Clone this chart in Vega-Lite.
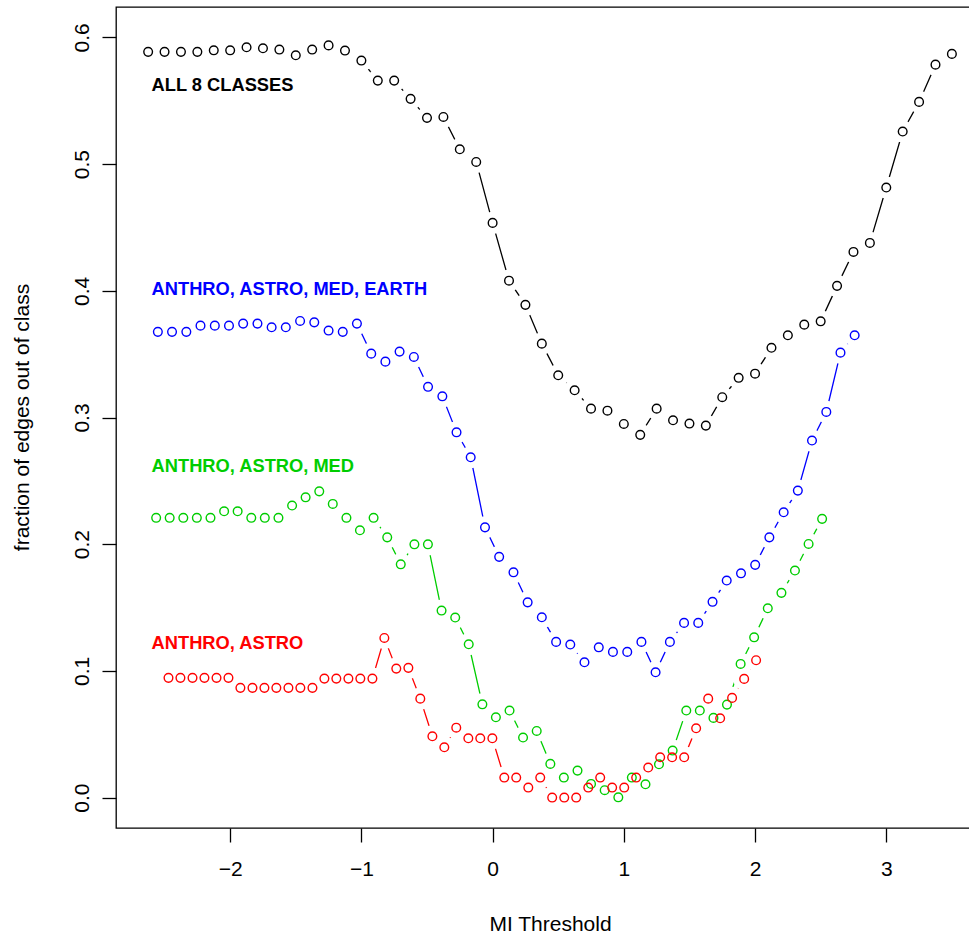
{
  "$schema": "https://vega.github.io/schema/vega-lite/v6.json",
  "width": 854,
  "height": 821,
  "autosize": "none",
  "padding": {"left": 116, "top": 7, "right": 0, "bottom": 109},
  "background": "white",
  "config": {"view": {"stroke": "black", "strokeWidth": 1.3}, "font": "Liberation Sans"},
  "datasets": {
    "pts": [
      {"series":"all","x":-2.625,"y":0.5886},{"series":"all","x":-2.5,"y":0.5886},{"series":"all","x":-2.375,"y":0.5886},{"series":"all","x":-2.25,"y":0.5886},{"series":"all","x":-2.125,"y":0.5898},{"series":"all","x":-2.0,"y":0.5898},{"series":"all","x":-1.875,"y":0.5922},{"series":"all","x":-1.75,"y":0.5914},{"series":"all","x":-1.625,"y":0.5904},{"series":"all","x":-1.5,"y":0.5859},
      {"series":"all","x":-1.375,"y":0.5904},{"series":"all","x":-1.25,"y":0.5937},{"series":"all","x":-1.125,"y":0.5896},{"series":"all","x":-1.0,"y":0.5817},{"series":"all","x":-0.875,"y":0.5659},{"series":"all","x":-0.75,"y":0.5659},{"series":"all","x":-0.625,"y":0.5515},{"series":"all","x":-0.5,"y":0.5365},{"series":"all","x":-0.375,"y":0.5372},{"series":"all","x":-0.25,"y":0.5117},
      {"series":"all","x":-0.125,"y":0.5017},{"series":"all","x":0,"y":0.4536},{"series":"all","x":0.125,"y":0.408},{"series":"all","x":0.25,"y":0.3889},{"series":"all","x":0.375,"y":0.3583},{"series":"all","x":0.5,"y":0.3333},{"series":"all","x":0.625,"y":0.3215},{"series":"all","x":0.75,"y":0.307},{"series":"all","x":0.875,"y":0.3054},{"series":"all","x":1.0,"y":0.2949},
      {"series":"all","x":1.125,"y":0.2863},{"series":"all","x":1.25,"y":0.307},{"series":"all","x":1.375,"y":0.2978},{"series":"all","x":1.5,"y":0.2952},{"series":"all","x":1.625,"y":0.2936},{"series":"all","x":1.75,"y":0.316},{"series":"all","x":1.875,"y":0.3313},{"series":"all","x":2.0,"y":0.3346},{"series":"all","x":2.125,"y":0.355},{"series":"all","x":2.25,"y":0.3649},
      {"series":"all","x":2.375,"y":0.3733},{"series":"all","x":2.5,"y":0.3759},{"series":"all","x":2.625,"y":0.4039},{"series":"all","x":2.75,"y":0.4307},{"series":"all","x":2.875,"y":0.4378},{"series":"all","x":3.0,"y":0.4815},{"series":"all","x":3.125,"y":0.5257},{"series":"all","x":3.25,"y":0.5491},{"series":"all","x":3.375,"y":0.5785},{"series":"all","x":3.5,"y":0.587},

      {"series":"four","x":-2.551,"y":0.3676},{"series":"four","x":-2.443,"y":0.3676},{"series":"four","x":-2.334,"y":0.3676},{"series":"four","x":-2.226,"y":0.3725},{"series":"four","x":-2.117,"y":0.3725},{"series":"four","x":-2.009,"y":0.3725},{"series":"four","x":-1.901,"y":0.3741},{"series":"four","x":-1.792,"y":0.3741},{"series":"four","x":-1.684,"y":0.3712},{"series":"four","x":-1.576,"y":0.3712},
      {"series":"four","x":-1.467,"y":0.3762},{"series":"four","x":-1.359,"y":0.3751},{"series":"four","x":-1.25,"y":0.3686},{"series":"four","x":-1.142,"y":0.3676},{"series":"four","x":-1.034,"y":0.3741},{"series":"four","x":-0.925,"y":0.3504},{"series":"four","x":-0.817,"y":0.3441},{"series":"four","x":-0.709,"y":0.352},{"series":"four","x":-0.6,"y":0.3478},{"series":"four","x":-0.492,"y":0.3242},
      {"series":"four","x":-0.383,"y":0.3167},{"series":"four","x":-0.275,"y":0.2883},{"series":"four","x":-0.167,"y":0.2686},{"series":"four","x":-0.058,"y":0.2133},{"series":"four","x":0.05,"y":0.19},{"series":"four","x":0.159,"y":0.1778},{"series":"four","x":0.267,"y":0.1541},{"series":"four","x":0.375,"y":0.1423},{"series":"four","x":0.484,"y":0.1229},{"series":"four","x":0.592,"y":0.1208},
      {"series":"four","x":0.7,"y":0.1068},{"series":"four","x":0.809,"y":0.1186},{"series":"four","x":0.917,"y":0.115},{"series":"four","x":1.026,"y":0.115},{"series":"four","x":1.134,"y":0.1229},{"series":"four","x":1.242,"y":0.0989},{"series":"four","x":1.351,"y":0.1229},{"series":"four","x":1.459,"y":0.1379},{"series":"four","x":1.567,"y":0.1379},{"series":"four","x":1.676,"y":0.1545},
      {"series":"four","x":1.784,"y":0.1713},{"series":"four","x":1.893,"y":0.177},{"series":"four","x":2.001,"y":0.1837},{"series":"four","x":2.109,"y":0.2054},{"series":"four","x":2.218,"y":0.2252},{"series":"four","x":2.326,"y":0.2423},{"series":"four","x":2.434,"y":0.2818},{"series":"four","x":2.543,"y":0.3044},{"series":"four","x":2.651,"y":0.3512},{"series":"four","x":2.759,"y":0.3649},

      {"series":"three","x":-2.564,"y":0.2208},{"series":"three","x":-2.461,"y":0.2208},{"series":"three","x":-2.357,"y":0.2208},{"series":"three","x":-2.254,"y":0.2208},{"series":"three","x":-2.15,"y":0.2208},{"series":"three","x":-2.046,"y":0.226},{"series":"three","x":-1.943,"y":0.226},{"series":"three","x":-1.839,"y":0.2208},{"series":"three","x":-1.736,"y":0.2208},{"series":"three","x":-1.632,"y":0.2208},
      {"series":"three","x":-1.528,"y":0.2305},{"series":"three","x":-1.425,"y":0.237},{"series":"three","x":-1.321,"y":0.2417},{"series":"three","x":-1.218,"y":0.2318},{"series":"three","x":-1.114,"y":0.2208},{"series":"three","x":-1.011,"y":0.211},{"series":"three","x":-0.907,"y":0.2208},{"series":"three","x":-0.803,"y":0.2054},{"series":"three","x":-0.7,"y":0.1841},{"series":"three","x":-0.596,"y":0.1999},
      {"series":"three","x":-0.493,"y":0.1999},{"series":"three","x":-0.389,"y":0.1476},{"series":"three","x":-0.285,"y":0.1421},{"series":"three","x":-0.182,"y":0.121},{"series":"three","x":-0.078,"y":0.0736},{"series":"three","x":0.025,"y":0.0634},{"series":"three","x":0.129,"y":0.0687},{"series":"three","x":0.232,"y":0.0474},{"series":"three","x":0.336,"y":0.0526},{"series":"three","x":0.44,"y":0.0266},
      {"series":"three","x":0.543,"y":0.0158},{"series":"three","x":0.647,"y":0.0213},{"series":"three","x":0.75,"y":0.0108},{"series":"three","x":0.854,"y":0.0058},{"series":"three","x":0.958,"y":0.0002},{"series":"three","x":1.061,"y":0.0158},{"series":"three","x":1.165,"y":0.0105},{"series":"three","x":1.268,"y":0.0263},{"series":"three","x":1.372,"y":0.0371},{"series":"three","x":1.476,"y":0.0687},
      {"series":"three","x":1.579,"y":0.0687},{"series":"three","x":1.683,"y":0.0629},{"series":"three","x":1.786,"y":0.0734},{"series":"three","x":1.89,"y":0.1055},{"series":"three","x":1.993,"y":0.1265},{"series":"three","x":2.097,"y":0.1494},{"series":"three","x":2.201,"y":0.1616},{"series":"three","x":2.304,"y":0.1792},{"series":"three","x":2.408,"y":0.2002},{"series":"three","x":2.511,"y":0.22},

      {"series":"two","x":-2.47,"y":0.0945},{"series":"two","x":-2.379,"y":0.0945},{"series":"two","x":-2.287,"y":0.0945},{"series":"two","x":-2.196,"y":0.0945},{"series":"two","x":-2.104,"y":0.0945},{"series":"two","x":-2.013,"y":0.0945},{"series":"two","x":-1.922,"y":0.0866},{"series":"two","x":-1.83,"y":0.0866},{"series":"two","x":-1.739,"y":0.0866},{"series":"two","x":-1.648,"y":0.0866},
      {"series":"two","x":-1.556,"y":0.0866},{"series":"two","x":-1.465,"y":0.0866},{"series":"two","x":-1.373,"y":0.0866},{"series":"two","x":-1.282,"y":0.0939},{"series":"two","x":-1.191,"y":0.0939},{"series":"two","x":-1.099,"y":0.0939},{"series":"two","x":-1.008,"y":0.0939},{"series":"two","x":-0.916,"y":0.0939},{"series":"two","x":-0.825,"y":0.126},{"series":"two","x":-0.734,"y":0.1018},
      {"series":"two","x":-0.642,"y":0.1024},{"series":"two","x":-0.551,"y":0.0781},{"series":"two","x":-0.459,"y":0.0484},{"series":"two","x":-0.368,"y":0.0397},{"series":"two","x":-0.277,"y":0.0552},{"series":"two","x":-0.185,"y":0.0468},{"series":"two","x":-0.094,"y":0.0468},{"series":"two","x":-0.002,"y":0.0468},{"series":"two","x":0.089,"y":0.0158},{"series":"two","x":0.18,"y":0.0158},
      {"series":"two","x":0.272,"y":0.0079},{"series":"two","x":0.363,"y":0.0158},{"series":"two","x":0.454,"y":0},{"series":"two","x":0.546,"y":0},{"series":"two","x":0.637,"y":0},{"series":"two","x":0.729,"y":0.0079},{"series":"two","x":0.82,"y":0.0158},{"series":"two","x":0.911,"y":0.0079},{"series":"two","x":1.003,"y":0.0079},{"series":"two","x":1.094,"y":0.0158},
      {"series":"two","x":1.186,"y":0.0237},{"series":"two","x":1.277,"y":0.0318},{"series":"two","x":1.368,"y":0.0318},{"series":"two","x":1.46,"y":0.0318},{"series":"two","x":1.551,"y":0.0547},{"series":"two","x":1.643,"y":0.0781},{"series":"two","x":1.734,"y":0.0626},{"series":"two","x":1.825,"y":0.0787},{"series":"two","x":1.917,"y":0.0937},{"series":"two","x":2.008,"y":0.1084}
    ],
    "labels": [
      {"series":"all","x":-2.599,"y":0.5614,"label":"ALL 8 CLASSES"},
      {"series":"four","x":-2.599,"y":0.401,"label":"ANTHRO, ASTRO, MED, EARTH"},
      {"series":"three","x":-2.599,"y":0.2612,"label":"ANTHRO, ASTRO, MED"},
      {"series":"two","x":-2.599,"y":0.1215,"label":"ANTHRO, ASTRO"}
    ]
  },
  "encoding": {
    "x": {
      "field": "x", "type": "quantitative",
      "scale": {"domain": [-2.87, 3.638], "nice": false, "zero": false},
      "axis": {
        "title": "MI Threshold", "values": [-2, -1, 0, 1, 2, 3], "format": "d",
        "grid": false, "domain": false,
        "tickColor": "black", "tickSize": 14, "tickWidth": 1.3,
        "labelFontSize": 21, "labelColor": "black", "labelFlush": false,
        "labelBaseline": "alphabetic", "labelPadding": 33,
        "titleFontSize": 21, "titleFontWeight": "normal", "titleColor": "black",
        "titleX": 434, "titleY": 102, "titleBaseline": "alphabetic", "titleAlign": "center"
      }
    },
    "y": {
      "field": "y", "type": "quantitative",
      "scale": {"domain": [-0.024, 0.624], "nice": false, "zero": false},
      "axis": {
        "title": "fraction of edges out of class", "values": [0, 0.1, 0.2, 0.3, 0.4, 0.5, 0.6], "format": ".1f",
        "grid": false, "domain": false,
        "tickColor": "black", "tickSize": 14, "tickWidth": 1.3,
        "labelFontSize": 21, "labelColor": "black", "labelFlush": false,
        "labelAngle": 270, "labelAlign": "center", "labelBaseline": "alphabetic", "labelPadding": 14,
        "titleFontSize": 21, "titleFontWeight": "normal", "titleColor": "black",
        "titleAngle": 270, "titleX": -88, "titleY": 410, "titleBaseline": "alphabetic", "titleAlign": "center"
      }
    },
    "color": {
      "field": "series", "type": "nominal",
      "scale": {"domain": ["all", "four", "three", "two"], "range": ["#000000", "#0000FF", "#00CD00", "#FF0000"]},
      "legend": null
    }
  },
  "layer": [
    {"data": {"name": "pts"}, "mark": {"type": "line", "strokeWidth": 1.3}, "encoding": {"detail": {"field": "series"}, "order": {"field": "x"}}},
    {"data": {"name": "pts"}, "mark": {"type": "point", "shape": "circle", "filled": true, "size": 490, "opacity": 1, "strokeWidth": 0}, "encoding": {"color": {"value": "white"}}},
    {"data": {"name": "pts"}, "mark": {"type": "point", "shape": "circle", "filled": false, "size": 75, "opacity": 1, "strokeWidth": 1.4}},
    {"data": {"name": "labels"}, "mark": {"type": "text", "align": "left", "baseline": "middle", "fontSize": 18.3, "fontWeight": "bold", "font": "Liberation Sans"}, "encoding": {"text": {"field": "label"}}}
  ]
}
